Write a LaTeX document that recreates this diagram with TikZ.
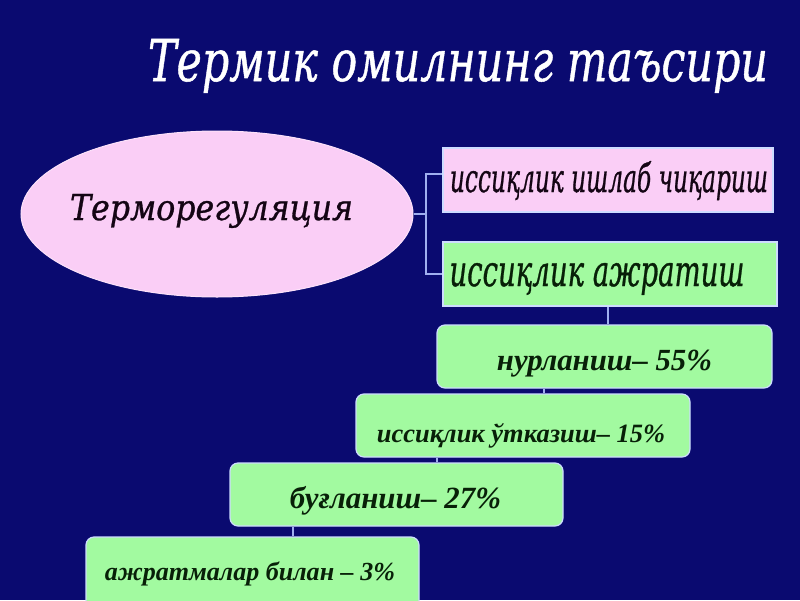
\documentclass[tikz,border=0pt]{standalone}
\usepackage{fontspec}
\setmainfont{Liberation Serif}
\newfontfamily\cambriaish{DejaVu Serif}[ItalicFeatures={FakeBold=0.9}]
\usetikzlibrary{shapes.geometric}
\definecolor{bgnavy}{RGB}{10,10,112}
\definecolor{pinkfill}{RGB}{250,206,246}
\definecolor{greenfill}{RGB}{162,250,160}
\definecolor{edgecol}{RGB}{205,220,255}
\definecolor{linecol}{RGB}{160,175,240}
\definecolor{darktxt}{RGB}{20,5,20}
\definecolor{greentxt}{RGB}{8,32,8}
\tikzset{
  boxsq/.style={draw=edgecol, line width=1.2pt, minimum width=#1, minimum height=64pt, inner sep=0pt},
  boxrd/.style={draw=edgecol, line width=1.2pt, fill=greenfill, rounded corners=8pt, minimum width=#1, minimum height=63pt, inner sep=0pt},
  conn/.style={draw=linecol, line width=1.2pt},
  txt/.style={anchor=base, inner sep=0pt}
}
\begin{document}
\begin{tikzpicture}[x=1pt,y=-1pt]
\useasboundingbox (0,0) rectangle (800,600);
\clip (0,0) rectangle (800,600);
\fill[bgnavy] (0,0) rectangle (800,600);
% title
\node[txt, text=white] (title) at (458,81) {\resizebox{620pt}{42pt}{\cambriaish\itshape Термик омилнинг таъсири}};
% ellipse
\node[ellipse, draw=pinkfill!60!white, line width=1pt, fill=pinkfill, minimum width=392pt, minimum height=166pt, inner sep=0pt] (ell) at (217,214) {};
\node[txt, text=darktxt] (elltext) at (211.5,220) {\resizebox{283pt}{26pt}{\cambriaish\itshape Терморегуляция}};
% upper boxes
\node[boxsq=330pt, fill=pinkfill] (box1) at (608,180) {};
\node[txt, text=darktxt] (box1text) at (609,192) {\resizebox{318pt}{31pt}{\cambriaish\itshape иссиқлик ишлаб чиқариш}};
\node[boxsq=334pt, fill=greenfill] (box2) at (610,274) {};
\node[txt, text=greentxt] (box2text) at (597,286) {\resizebox{295pt}{23pt}{\cambriaish\itshape иссиқлик ажратиш}};
% lower boxes
\node[boxrd=335pt] (box3) at (604.5,356.5) {};
\node[txt, text=greentxt] (box3text) at (604.5,370) {\resizebox{215pt}{!}{\bfseries\itshape нурланиш– 55\%}};
\node[boxrd=334pt] (box4) at (523,425.5) {};
\node[txt, text=greentxt] (box4text) at (521,442) {\resizebox{288pt}{!}{\bfseries\itshape иссиқлик ўтказиш– 15\%}};
\node[boxrd=333pt] (box5) at (396.5,494.5) {};
\node[txt, text=greentxt] (box5text) at (395.5,508) {\resizebox{211pt}{!}{\bfseries\itshape буғланиш– 27\%}};
\node[boxrd=333pt, minimum height=72pt] (box6) at (252.5,573) {};
\node[txt, text=greentxt] (box6text) at (250,580) {\resizebox{290pt}{!}{\bfseries\itshape ажратмалар билан – 3\%}};
% connectors
\coordinate (junc) at (426,214);
\draw[conn] (ell.east) -- (junc);
\draw[conn] (junc) |- ([yshift=6pt]box1.west);
\draw[conn] (junc) |- (box2.west);
\draw[conn] (box2.south -| 608,0) -- (box3.north -| 608,0);
\draw[conn] (box3.south -| 544,0) -- (box4.north -| 544,0);
\draw[conn] (box4.south -| 437,0) -- (box5.north -| 437,0);
\draw[conn] (box5.south -| 293,0) -- (box6.north -| 293,0);
\end{tikzpicture}
\end{document}
